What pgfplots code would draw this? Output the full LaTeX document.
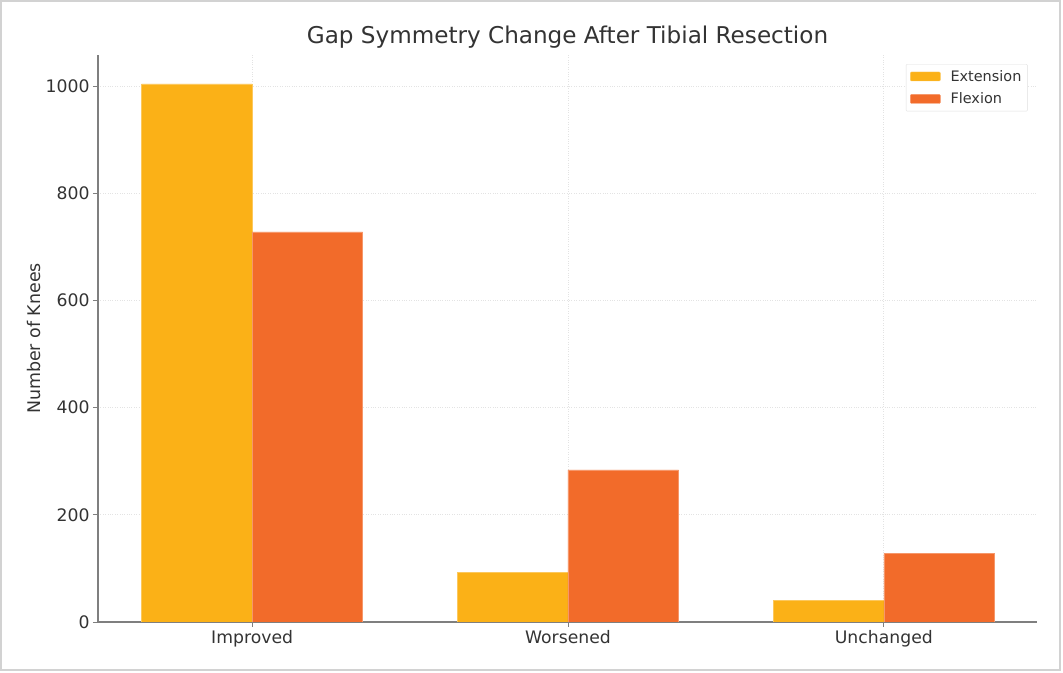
\documentclass[border=0pt]{standalone}
\usepackage{pgfplots}
\pgfplotsset{compat=1.18}
\usepackage{fontspec}
\setmainfont{DejaVu Sans}
\definecolor{ext}{HTML}{FBB117}
\definecolor{flx}{HTML}{F26B2A}
\definecolor{spine}{HTML}{7F7F7F}
\begin{document}
\begin{tikzpicture}
\path[use as bounding box] (0,0) rectangle (1063bp,673bp);
\draw[gray!35, line width=1.5bp] (0.75bp,3bp) rectangle (1060bp,672bp);
\begin{axis}[
  at={(98bp,51bp)}, anchor=south west,
  width=939bp, height=567bp, scale only axis,
  xmin=-0.488, xmax=2.485, ymin=0, ymax=1058,
  xtick={0,1,2}, xticklabels={Improved,Worsened,Unchanged},
  ytick={0,200,400,600,800,1000},
  axis x line*=bottom, axis y line*=left,
  axis line style={spine, line width=1.6bp},
  x axis line style={-}, y axis line style={-},
  tick style={spine, line width=0.8bp},
  major tick length=5bp, tick align=outside,
  xmajorgrids, ymajorgrids,
  grid style={gray!22, dotted, line width=0.7bp},
  tick label style={font=\fontsize{17.3}{20}\selectfont, text=black!80},
  /pgf/number format/assume math mode=true,
  /pgf/number format/1000 sep={},
  ylabel={Number of Knees},
  ylabel style={font=\fontsize{17.5}{20}\selectfont, text=black!80, yshift=-2bp},
  title={Gap Symmetry Change After Tibial Resection},
  title style={font=\fontsize{23.2}{27}\selectfont, text=black!80, yshift=-3bp},
  legend style={at={(0.990,0.984)}, anchor=north east, draw=gray!25,
    font=\fontsize{14.5}{17}\selectfont, text=black!80, row sep=6bp,
    inner xsep=4bp, inner ysep=4bp, rounded corners=1bp},
  legend image code/.code={\fill[#1] (0bp,-4.5bp) rectangle (30bp,4.5bp); \path (38bp,0bp);},
  legend cell align=left,
]
\addplot[ybar, bar width=0.35, bar shift=-0.175, fill=ext, draw=ext!70!white, line width=0.4bp]
  coordinates {(0,1004) (1,92) (2,40)};
\addlegendentry{Extension}
\addplot[ybar, bar width=0.35, bar shift=0.175, fill=flx, draw=flx!70!white, line width=0.4bp]
  coordinates {(0,728) (1,284) (2,128)};
\addlegendentry{Flexion}
\end{axis}
\end{tikzpicture}
\end{document}
